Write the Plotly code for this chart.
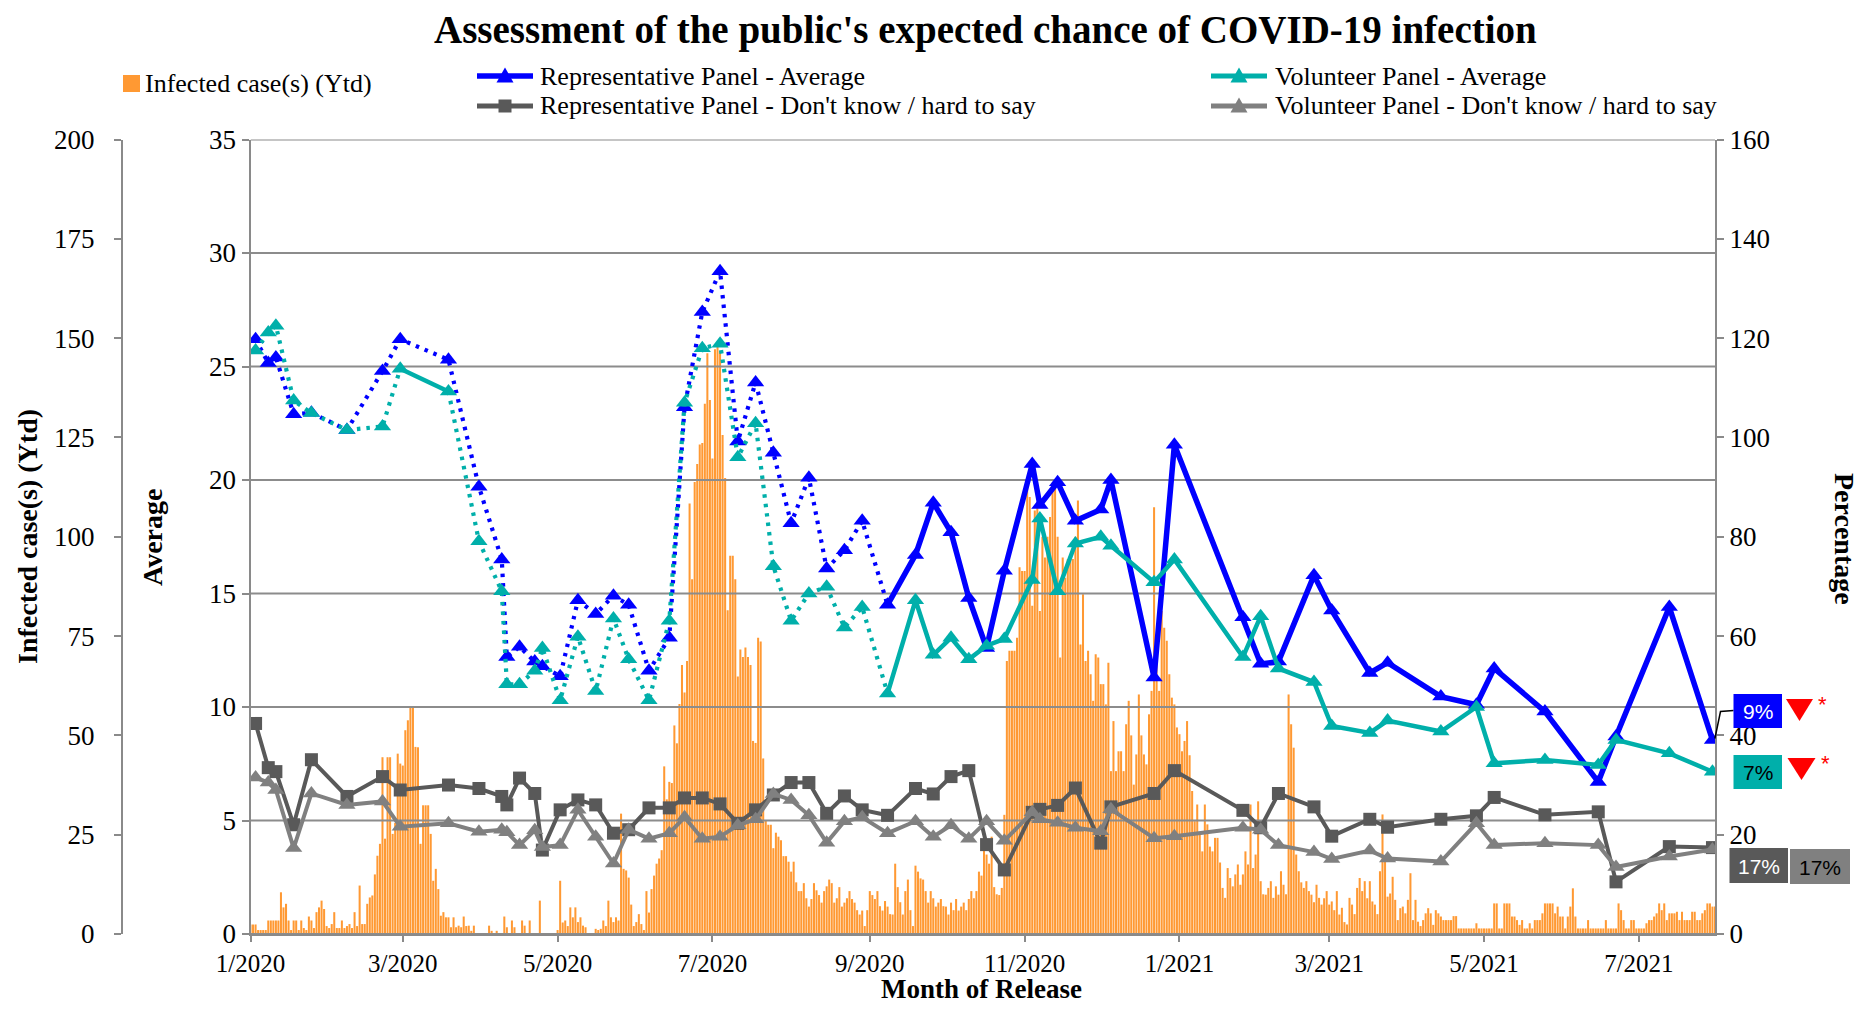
import pandas as pd
import plotly.graph_objects as go

# the page is photographed in a 1870x1016 window; the page body has an 8px margin
PAGE_W, PAGE_H, BODY = 1870, 1016, 8
W, H = PAGE_W - 2 * BODY, PAGE_H - 2 * BODY
SERIF = "Liberation Serif, Times New Roman, serif"
SANS = "Liberation Sans, Arial, sans-serif"

# ---------------- data ----------------
SURVEY_DATES = [
    "2020-01-03", "2020-01-08", "2020-01-11", "2020-01-18", "2020-01-25", "2020-02-08", "2020-02-22",
    "2020-02-29", "2020-03-19", "2020-03-31", "2020-04-09", "2020-04-11", "2020-04-16", "2020-04-22",
    "2020-04-25", "2020-05-02", "2020-05-09", "2020-05-16", "2020-05-23", "2020-05-29", "2020-06-06",
    "2020-06-14", "2020-06-20", "2020-06-27", "2020-07-04", "2020-07-11", "2020-07-18", "2020-07-25",
    "2020-08-01", "2020-08-08", "2020-08-15", "2020-08-22", "2020-08-29", "2020-09-08", "2020-09-19",
    "2020-09-26", "2020-10-03", "2020-10-10", "2020-10-17", "2020-10-24", "2020-11-04", "2020-11-07",
    "2020-11-14", "2020-11-21", "2020-12-01", "2020-12-05", "2020-12-22", "2020-12-30", "2021-01-26",
    "2021-02-02", "2021-02-09", "2021-02-23", "2021-03-02", "2021-03-17", "2021-03-24", "2021-04-14",
    "2021-04-28", "2021-05-05", "2021-05-25", "2021-06-15", "2021-06-22", "2021-07-13", "2021-07-30",
]
REP_AVG = [26.2, 25.15, 25.4, 22.9, 22.96, 22.2, 24.8, 26.2, 25.3, 19.7,
           16.5, 12.2, 12.65, 12.0, 11.8, 11.35, 14.7, 14.1, 14.9, 14.5,
           11.6, 13.05, 23.2, 27.4, 29.2, 21.7, 24.3, 21.2, 18.1, 20.1,
           16.1, 16.9, 18.2, 14.5, 16.7, 19.0, 17.7, 14.8, 12.6, 16.0,
           20.7, 18.9, 19.9, 18.2, 18.7, 20.0, 11.3, 21.55, 13.95, 11.9,
           12.0, 15.8, 14.25, 11.5, 11.95, 10.46, 10.1, 11.7, 9.8, 6.7,
           8.7, 14.4, 8.55]
VOL_AVG = [25.7, 26.5, 26.8, 23.5, 22.95, 22.2, 22.36, 24.9, 23.9, 17.3,
           15.1, 11.0, 11.0, 11.6, 12.6, 10.3, 13.1, 10.7, 13.9, 12.1,
           10.3, 13.8, 23.4, 25.8, 26.0, 21.0, 22.5, 16.2, 13.8, 15.0,
           15.3, 13.5, 14.4, 10.6, 14.7, 12.3, 13.05, 12.1, 12.7, 13.0,
           15.6, 18.3, 15.1, 17.2, 17.5, 17.1, 15.5, 16.5, 12.2, 14.0,
           11.7, 11.1, 9.16, 8.86, 9.4, 8.92, 10.0, 7.52, 7.67, 7.45,
           8.55, 7.96, 7.15]
REP_DK = [42.4, 33.5, 32.7, 22.0, 35.1, 27.7, 31.7, 29.0, 30.0, 29.3,
          27.7, 26.0, 31.4, 28.3, 16.9, 25.0, 27.0, 26.0, 20.3, 21.0,
          25.4, 25.4, 27.4, 27.4, 26.2, 22.3, 25.0, 28.0, 30.5, 30.5,
          24.3, 27.8, 25.0, 23.9, 29.3, 28.2, 31.7, 32.9, 18.0, 12.9,
          24.5, 25.1, 25.9, 29.4, 18.3, 25.6, 28.3, 32.9, 24.9, 21.4,
          28.3, 25.6, 19.7, 23.1, 21.5, 23.1, 23.8, 27.5, 24.0, 24.6,
          10.5, 17.6, 17.4]
VOL_DK = [31.5, 30.5, 29.0, 17.3, 28.3, 26.0, 26.7, 21.6, 22.3, 20.6,
          21.0, 20.5, 17.9, 20.9, 17.5, 17.9, 25.0, 19.6, 14.2, 21.0,
          19.2, 20.3, 23.5, 19.2, 19.6, 21.9, 23.1, 28.2, 27.0, 23.9,
          18.4, 22.7, 23.5, 20.3, 22.7, 19.6, 21.9, 19.2, 22.7, 18.8,
          24.5, 23.1, 22.4, 21.4, 20.7, 25.1, 19.3, 19.7, 21.4, 21.0,
          17.9, 16.5, 15.1, 16.8, 15.2, 14.6, 22.3, 17.9, 18.3, 17.9,
          13.5, 15.6, 17.0]
# spans drawn as solid lines (everything else dotted)
REP_AVG_SOLID_SPANS = [("2020-09-08", "2021-07-30")]
VOL_AVG_SOLID_SPANS = [("2020-02-29", "2020-03-19"), ("2020-09-08", "2021-07-30")]

# daily infected cases (yesterday)
CASES_FROM_2020_01_01 = [
    2.4, 2.4, 2.4, 1, 1, 1, 1, 3.4, 3.4, 3.4, 3.4, 3.4, 10.5, 6.7, 7.6, 3.4, 1, 3.4, 3.4, 1,
    3.4, 1.5, 1, 4.4, 3.4, 1.5, 5.5, 6.7, 8.4, 6.3, 2, 1.5, 2.5, 5.5, 1.5, 1.5, 3.4, 1.5, 2, 2.5,
    1.5, 5.5, 2, 12.2, 2.5, 2.5, 7.6, 9.2, 9.7,
    15, 19.7, 22.7, 44.5, 24, 44.5, 44.5, 25.2, 28, 45.4, 42.9, 42.4, 51.3, 53.8, 57.1, 57.1, 47.1,
    47, 22.7, 32.4, 32.4, 32.4, 25.2, 13.4, 16.4, 11.3, 4.6,
    5.5, 4.2, 4.2, 1.7, 4.2, 1.7, 2.1, 1.7, 4.4, 2, 2.1, 0.8, 2.1, 0, 0, 0, 0, 0, 2.1, 0.8,
    0, 0.8, 0, 0, 4.4, 1.7, 0, 3.4, 1.7, 0, 0, 3.4, 2.1, 0, 3.4, 0, 0, 0, 8.4, 0,
    0, 0, 0, 0, 0, 1, 13.4, 2.9, 3.4, 2, 6.7, 4.2, 6.7, 3, 4.2, 2.1, 1.7, 0, 0, 0,
    1.3, 1, 1.3, 3.4, 2, 8.4, 4.2, 3, 4.2, 3.4, 30.3, 16.4,
]
CASES_FROM_2020_05_28 = [
    16, 14.2, 7.4, 2, 3, 5, 2.5, 1, 10.8, 5.4, 11.3, 14.7, 17.7, 19, 21.1, 42.2, 33.9, 38.3, 38, 52.5,
    48, 57.9,
    67.7, 60.8, 68.7, 108.4, 89.3, 113.8, 118.3, 123.2, 123.6, 133.5,
    146.2, 134.4, 119.7, 147.2, 148.2, 146.7, 125.6, 114.8, 81.5, 95.2,
    95.2, 89.3, 64.8, 71.6, 69.7, 72.1, 69.7, 67.7, 48.6, 48.1,
    74.6, 73.6, 44.2, 28.5, 27.5, 27.5, 21.6, 25.5, 24.5, 23.6, 19.6,
    19.6, 18.2, 15.7, 18.2, 13, 10.8, 10.8, 12.8, 9, 6.9,
    8.8, 12.8, 11, 9.8, 7.9, 10.8, 12, 13.7, 12.8, 7.9,
    9, 11.8, 6.9, 7.9, 9, 10.8, 8.8, 7.9, 6, 4.9,
    5.9, 2, 6, 10.8, 9.8, 8.8, 10.8, 7, 5.9, 8.3,
    6.9, 5, 4.9, 17.7, 11.8, 8, 4.9, 10.8, 13.7, 6,
    2, 17.2, 15.7, 14, 13.7, 10.8, 7.9, 10.8, 9, 6.9,
    7.9, 8.8, 7, 6.9, 4.9, 7.9, 6, 8.8, 5.9, 6.9,
    7.9, 6, 8.8, 10.8, 9, 10.8, 15.7, 14.7, 24.5, 20,
    17.7, 24.5, 11.8, 10, 9.8, 11.6, 30, 68.7,
]
CASES_FROM_2020_10_26 = [
    71.3, 71.3, 71.3, 74.6, 92.3, 91.4, 91.4, 114.1, 110, 82.6,
    106.6, 108.2, 81.3, 100, 94.8, 100, 105, 112.4, 113.3, 100,
    69.6, 94.8, 89.7, 94.4, 94.4, 94.4, 100, 109.1, 72.9, 85.5,
    68.7, 71.3,
    65.4, 58.7, 70.4, 69.6, 62.9, 62.9, 57.8, 68.3, 41, 53.6,
    41, 46, 46, 41, 52.8, 58.7, 50, 37.6, 45.2, 60.3,
    50, 45.2, 42.7, 55.3, 61.2, 107.4, 69.6, 61.2, 81.3, 77.1,
    73.8, 65.4, 59.5, 57.8, 52,
    50.3, 46, 48.6, 53.6, 45, 36, 28.4, 32.6, 25, 20.8,
    32.6, 27.6, 22, 20.8, 24.2, 24.2, 18, 11.6, 9.1, 16.6,
    14.1, 12, 15, 17.5, 12.4, 15, 20.8, 17.5, 32.6, 16.6,
    20, 33.4, 13.3, 10, 9.9, 11.6, 13.3, 9.1, 12, 9.9,
    15.8, 12.4, 10, 60.3, 52.8, 46.9, 20, 15.8, 13, 11.6,
    13.3, 10.8, 9.9, 8, 12.4, 9.1, 7.4, 9, 10.8, 7.4,
    8.2, 6, 10.8, 4.9, 6.6, 3, 2.4, 9.1, 7.4, 5,
    11.6, 14.1, 10.8, 13.3, 9, 13.3, 8.2, 7.4, 5, 15.8,
    30.1, 18.6, 9.4,
]
CASES_FROM_2021_03_25 = [
    10.2, 14.4, 8.6, 3.5, 6.5, 6.9, 5.2, 8.6, 15.3, 3.5,
    8.6, 3.1, 2, 3.5, 5.2, 6.5, 5.2, 2.3, 6, 5.2,
    4.4, 3.5, 3.5, 3.5, 3.5, 4.5, 4.5,
    1.4, 1.4, 1.4, 1.4, 1.4, 1.4, 1.4, 2.7, 1.4, 1.4,
    1.4, 1.4, 1.4, 1.4, 7.7, 7.7, 1.4, 1.4, 7.7, 7.7,
    7.7, 4.4, 4.4, 3.5, 2.3, 3.5, 1.4, 1.4, 2.7, 1.4,
    3.5, 3.5, 3.5, 5.2, 7.7, 7.7, 7.7, 7.7, 5.2, 6.9,
    4.4, 4.4, 1.4, 4.4, 6.9, 11.5, 4.4, 1.4, 1.4, 1.4,
    1.4, 3.5, 1.4, 1.4, 1.4, 1.4, 1.4, 1.4, 3.5, 1.4,
    1.4, 1.4, 1.4, 7.7, 6, 3.5, 1.4, 1.4, 3.5, 3.5,
    1.4, 1.4, 1.4, 1.4, 2.7, 3.5, 3.5, 4.4, 5.2, 7.7,
    6, 7.7, 3.5, 5.2, 5.2, 5.2, 5.6, 3.5, 5.6, 3.5,
    3.5, 3.5, 5.6, 5.6, 3.5, 3.5, 5.2, 6, 7.7, 7.7,
    6.9, 6.9,
]
CASE_CHUNKS = [("2020-01-01", CASES_FROM_2020_01_01), ("2020-05-28", CASES_FROM_2020_05_28),
               ("2020-10-26", CASES_FROM_2020_10_26), ("2021-03-25", CASES_FROM_2021_03_25)]

X_RANGE = ["2020-01-01", "2021-07-31"]
X_TICK_DATES = ["2020-01-01", "2020-03-01", "2020-05-01", "2020-07-01", "2020-09-01", "2020-11-01",
                "2021-01-01", "2021-03-01", "2021-05-01", "2021-07-01"]
X_TICK_LABELS = ["1/2020", "3/2020", "5/2020", "7/2020", "9/2020", "11/2020",
                 "1/2021", "3/2021", "5/2021", "7/2021"]
CASE_TICKS = [0, 25, 50, 75, 100, 125, 150, 175, 200]
AVG_TICKS = [0, 5, 10, 15, 20, 25, 30, 35]
PCT_TICKS = [0, 20, 40, 60, 80, 100, 120, 140, 160]

# latest values shown in boxes
LAST_LABELS = ["9%", "7%", "17%", "17%"]

# ---------------- style ----------------
BLUE = "#0000FF"
TEAL = "#00AFAA"
DGREY = "#595959"
LGREY = "#808080"
ORANGE = "#FF9933"
AXIS_C = "#8A8A8A"
GRID_C = "#8C8C8C"

# plot area in page pixels
XL, XR, YT, YB = 250.5, 1715.0, 139.5, 934.0
CASE_AXIS_X = 122.0


def px(x, y):
    """page pixel -> paper fraction"""
    return (x - BODY) / W, 1 - (y - BODY) / H


fig = go.Figure()

# bars (main subplot, cases axis)
bx, by = [], []
for start, vals in CASE_CHUNKS:
    bx += list(pd.date_range(start, periods=len(vals), freq="D"))
    by += vals
fig.add_trace(go.Bar(x=bx, y=by, marker=dict(color=ORANGE, line=dict(width=0)),
                     xaxis="x", yaxis="y", hoverinfo="skip"))

# gridlines of the Average axis (above the bars, below the lines)
gx, gy = [], []
for t in AVG_TICKS:
    gx += [X_RANGE[0], X_RANGE[1], None]
    gy += [t, t, None]
fig.add_trace(go.Scatter(x=gx, y=gy, mode="lines", line=dict(color=GRID_C, width=2),
                         xaxis="x", yaxis="y2", hoverinfo="skip"))


def add_series(vals, spans, color, width, symbol, msize, yaxis):
    d = pd.to_datetime(SURVEY_DATES)
    sp = [(pd.Timestamp(a), pd.Timestamp(b)) for a, b in spans]

    def solid(i):
        return any(a <= d[i] and d[i + 1] <= b for a, b in sp)

    groups = []
    for i in range(len(d) - 1):
        s = solid(i)
        if groups and groups[-1][0] == s:
            groups[-1][1].append(i + 1)
        else:
            groups.append([s, [i, i + 1]])
    for s, idx in groups:
        fig.add_trace(go.Scatter(
            x=[SURVEY_DATES[j] for j in idx], y=[vals[j] for j in idx], mode="lines",
            line=dict(color=color, width=width if s else 4.2, dash="solid" if s else "3.5px,6px"),
            xaxis="x", yaxis=yaxis, hoverinfo="skip"))
    fig.add_trace(go.Scatter(x=SURVEY_DATES, y=vals, mode="markers",
                             marker=dict(symbol=symbol, size=msize, color=color, line=dict(width=0)),
                             xaxis="x", yaxis=yaxis, hoverinfo="skip"))


add_series(REP_AVG, REP_AVG_SOLID_SPANS, BLUE, 5.5, "triangle-up", 15, "y2")
add_series(VOL_AVG, VOL_AVG_SOLID_SPANS, TEAL, 4.5, "triangle-up", 15, "y2")
add_series(REP_DK, [(SURVEY_DATES[0], SURVEY_DATES[-1])], DGREY, 4, "square", 13, "y3")
add_series(VOL_DK, [(SURVEY_DATES[0], SURVEY_DATES[-1])], LGREY, 4, "triangle-up", 15, "y3")

axis_common = dict(showline=True, linecolor=AXIS_C, linewidth=2, ticks="outside", ticklen=7,
                   tickwidth=2, tickcolor=AXIS_C, showgrid=False, zeroline=False, automargin=False,
                   tickfont=dict(family=SERIF, size=27, color="black"))
x0p, y0p = px(XL, YB)
x1p, y1p = px(XR, YT)

fig.update_layout(
    template="none",
    width=W, height=H, margin=dict(l=0, r=0, t=0, b=0, pad=0), autosize=False,
    paper_bgcolor="white", plot_bgcolor="rgba(0,0,0,0)", showlegend=False,
    bargap=0.2, font=dict(family=SERIF, size=24, color="black"),
    xaxis=dict(domain=[x0p, x1p], range=X_RANGE, type="date", anchor="y",
               tickmode="array", tickvals=X_TICK_DATES, ticktext=X_TICK_LABELS,
               **{**axis_common, "ticklen": 6, "tickfont": dict(family=SERIF, size=25, color="black")}),
    yaxis=dict(domain=[y0p, y1p], range=[0, 200], tickmode="array", tickvals=CASE_TICKS,
               anchor="free", position=px(CASE_AXIS_X, 0)[0], side="left", ticklabelstandoff=14,
               **axis_common),
    yaxis2=dict(overlaying="y", anchor="x", side="left", range=[0, 35], tickmode="array",
                tickvals=AVG_TICKS, ticksuffix="%", **axis_common),
    yaxis3=dict(overlaying="y", anchor="x", side="right", range=[0, 160], tickmode="array",
                tickvals=PCT_TICKS, ticksuffix="%", **axis_common),
)

ann = []
shapes = []


def text(x, y, s, size, xanchor="center", angle=0, color="black", family=SERIF):
    xx, yy = px(x, y)
    ann.append(dict(x=xx, y=yy, xref="paper", yref="paper", text=s, showarrow=False,
                    xanchor=xanchor, yanchor="middle", textangle=angle,
                    font=dict(family=family, size=size, color=color)))


def tri(cx, cy, w, h, color, down=False):
    if down:
        pts = [(cx - w / 2, cy - h / 2), (cx + w / 2, cy - h / 2), (cx, cy + h / 2)]
    else:
        pts = [(cx - w / 2, cy + h / 2), (cx + w / 2, cy + h / 2), (cx, cy - h / 2)]
    p = [px(*q) for q in pts]
    path = "M %f,%f L %f,%f L %f,%f Z" % (p[0][0], p[0][1], p[1][0], p[1][1], p[2][0], p[2][1])
    shapes.append(dict(type="path", path=path, xref="paper", yref="paper",
                       fillcolor=color, line=dict(width=0)))


def rect(xa, ya, xb, yb, color):
    a, b = px(xa, ya)
    c, d = px(xb, yb)
    shapes.append(dict(type="rect", x0=a, y0=d, x1=c, y1=b, xref="paper", yref="paper",
                       fillcolor=color, line=dict(width=0)))


def hline(xa, xb, y, color, width):
    a, b = px(xa, y)
    c, _ = px(xb, y)
    shapes.append(dict(type="line", x0=a, y0=b, x1=c, y1=b, xref="paper", yref="paper",
                       line=dict(color=color, width=width)))


# title
text(986, 30, "<b>Assessment of the public's expected chance of COVID-19 infection</b>", 39)

# legend
rect(123, 75, 140, 92, ORANGE)
text(143, 84, "Infected case(s) (Ytd)", 26, "left")
hline(477, 533, 76, BLUE, 5.5)
tri(505, 75, 17, 15, BLUE)
text(538, 76, "Representative Panel - Average", 26, "left")
hline(477, 533, 106, DGREY, 5)
rect(498.5, 99.5, 511.5, 112.5, DGREY)
text(538, 106, "Representative Panel - Don't know / hard to say", 26, "left")
hline(1211, 1267, 76, TEAL, 5)
tri(1239, 75, 17, 15, TEAL)
text(1273, 76, "Volunteer Panel - Average", 26, "left")
hline(1211, 1267, 106, LGREY, 5)
tri(1239, 105, 17, 15, LGREY)
text(1273, 106, "Volunteer Panel - Don't know / hard to say", 26, "left")

# axis titles
text(27, 537, "<b>Infected case(s) (Ytd)</b>", 28, angle=-90)
text(152, 538, "<b>Average</b>", 28, angle=-90)
text(1845, 539, "<b>Percentage</b>", 28, angle=90)
text(981, 989, "<b>Month of Release</b>", 27)

# latest value boxes
a, b = px(1714.9, 738.5)
c, d = px(1720.5, 711.5)
e, f = px(1733.5, 710.5)
shapes.append(dict(type="path", path="M %f,%f L %f,%f L %f,%f" % (a, b, c, d, e, f),
                   xref="paper", yref="paper", line=dict(color="black", width=1.5)))
rect(1733.5, 694, 1782, 728, BLUE)
text(1757.5, 711, LAST_LABELS[0], 21, color="white", family=SANS)
tri(1799.5, 710, 27, 22, "#FF0000", down=True)
text(1822, 704, "*", 22, color="#FF0000", family=SANS)
rect(1733.5, 755, 1782, 789, TEAL)
text(1757.5, 772, LAST_LABELS[1], 21, color="black", family=SANS)
tri(1801.5, 769, 28, 22, "#FF0000", down=True)
text(1825, 763, "*", 22, color="#FF0000", family=SANS)
rect(1729.5, 848, 1788, 883, DGREY)
text(1759, 866, LAST_LABELS[2], 21, color="white", family=SANS)
rect(1790, 849, 1850, 884, LGREY)
text(1820, 867, LAST_LABELS[3], 21, color="black", family=SANS)

fig.update_layout(annotations=ann, shapes=shapes)
fig.write_html("out.html", config={"displayModeBar": False})
